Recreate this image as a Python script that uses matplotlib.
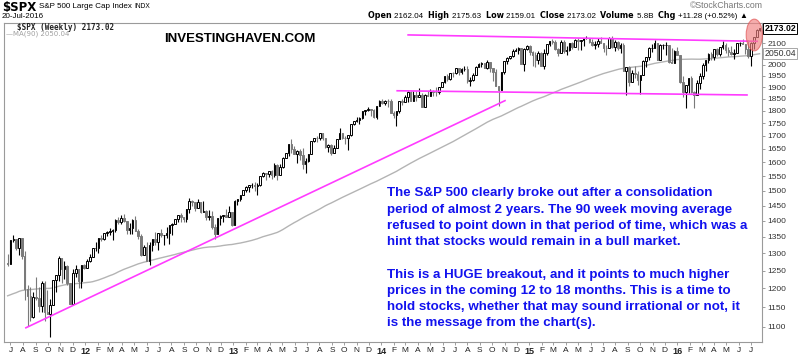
import numpy as np
import pandas as pd
import matplotlib
matplotlib.use('Agg')
import matplotlib.pyplot as plt
import matplotlib.dates as mdates
from matplotlib.patches import Ellipse

##############################################################################
# DATA (weekly $SPX)

# weekly closes before the visible window, only needed for the 90 week MA
pre_close = [1025.21, 1071.49, 1087.68, 1079.60, 1036.19, 1069.30, 1093.48, 1091.38, 1091.49, 1105.98,
             1106.41, 1102.47, 1126.48, 1115.10,
             1144.98, 1136.03, 1091.76, 1073.87, 1066.19, 1075.51, 1109.17, 1104.49, 1138.70, 1149.99,
             1159.90, 1166.59, 1178.10, 1194.37, 1192.13, 1217.28, 1186.69, 1110.88, 1135.68, 1087.69,
             1089.41, 1064.88, 1091.60, 1117.51, 1076.76, 1022.58, 1077.96, 1064.88, 1102.66, 1101.60,
             1121.64, 1079.25, 1071.69, 1064.59, 1104.51, 1109.55, 1125.59, 1148.67, 1146.24, 1165.15,
             1176.19, 1183.08, 1183.26, 1225.85, 1199.21, 1199.73, 1189.40, 1224.71, 1240.40, 1243.91,
             1256.77, 1257.64,
             1271.50, 1293.24, 1283.35, 1276.34, 1310.87, 1329.15, 1343.01, 1319.88, 1321.15, 1304.28,
             1279.20, 1313.80, 1332.41, 1328.17, 1319.68, 1337.38, 1363.61, 1340.20, 1337.77, 1333.27,
             1331.10, 1300.16, 1270.98, 1271.50]

first_week = '2011-06-24'

close_2011 = [1268.45, 1339.67, 1343.80, 1316.14, 1345.02, 1292.28, 1199.38, 1178.81, 1123.53, 1176.80,
              1173.97, 1154.23, 1216.01, 1136.43, 1131.42, 1155.46, 1224.58, 1238.25, 1285.09, 1253.23,
              1263.85, 1215.65, 1158.67, 1244.28, 1255.19, 1219.66, 1265.33, 1257.60]
high_2011 = [1298.6, 1341.0, 1356.5, 1343.8, 1347.0, 1345.2, 1307.4, 1208.5, 1204.5, 1190.7,
             1230.7, 1204.4, 1220.4, 1220.4, 1195.9, 1171.4, 1224.6, 1238.3, 1292.7, 1285.1,
             1277.6, 1266.0, 1215.7, 1255.5, 1267.1, 1255.2, 1265.4, 1269.4]
low_2011 = [1262.7, 1268.4, 1333.2, 1309.0, 1295.9, 1282.9, 1168.1, 1101.5, 1114.2, 1121.1,
            1170.0, 1136.1, 1136.2, 1114.2, 1131.0, 1074.8, 1155.0, 1190.7, 1221.0, 1215.4,
            1226.6, 1209.4, 1158.6, 1158.6, 1231.5, 1202.4, 1202.4, 1254.0]

close_2012 = [1277.81, 1289.09, 1315.38, 1316.33, 1344.90, 1342.64, 1361.23, 1365.74, 1369.63, 1370.87,
              1404.17, 1397.11, 1408.47, 1398.08, 1370.26, 1378.53, 1403.36, 1369.10, 1353.39, 1295.22,
              1317.82, 1278.04, 1325.66, 1342.84, 1335.02, 1362.16, 1354.68, 1356.78, 1362.66, 1385.97,
              1390.99, 1405.87, 1418.16, 1411.13, 1406.58, 1437.92, 1465.77, 1460.15, 1440.67, 1460.93,
              1428.59, 1433.19, 1411.94, 1414.20, 1379.85, 1359.88, 1409.15, 1416.18, 1418.07, 1413.58,
              1430.15, 1385.59]
high_2012 = [1284.6, 1296.8, 1315.5, 1333.5, 1345.3, 1354.3, 1363.4, 1368.9, 1378.0, 1374.4,
             1405.9, 1414.0, 1419.2, 1422.4, 1397.5, 1392.8, 1406.6, 1415.3, 1374.8, 1358.8,
             1324.1, 1334.9, 1334.9, 1343.3, 1363.5, 1362.2, 1374.8, 1356.8, 1380.4, 1386.0,
             1394.2, 1407.1, 1418.7, 1426.7, 1413.5, 1438.0, 1474.5, 1467.1, 1460.7, 1470.9,
             1460.9, 1464.0, 1433.7, 1434.3, 1433.4, 1388.8, 1409.2, 1419.7, 1420.5, 1438.6,
             1448.0, 1430.2]
low_2012 = [1258.9, 1274.6, 1290.3, 1306.1, 1300.5, 1337.5, 1340.0, 1352.3, 1354.9, 1340.0,
            1365.7, 1391.6, 1391.1, 1395.8, 1357.4, 1358.8, 1358.6, 1367.0, 1343.1, 1291.9,
            1295.8, 1277.0, 1266.7, 1306.6, 1324.4, 1309.3, 1350.0, 1325.4, 1345.1, 1329.2,
            1354.7, 1391.7, 1397.3, 1398.0, 1397.0, 1396.6, 1425.0, 1449.6, 1430.5, 1440.7,
            1425.5, 1428.6, 1403.3, 1403.3, 1373.0, 1343.4, 1359.9, 1385.4, 1398.0, 1411.9,
            1413.5, 1385.1]

close_2013 = [1466.47, 1472.05, 1485.98, 1502.96, 1513.17, 1517.93, 1519.79, 1515.60, 1518.20, 1551.18,
              1560.70, 1556.89, 1569.19, 1553.28, 1588.85, 1555.25, 1582.24, 1614.42, 1633.70, 1667.47,
              1649.60, 1630.74, 1643.38, 1626.73, 1592.43, 1606.28, 1631.89, 1680.19, 1692.09, 1691.65,
              1709.67, 1691.42, 1655.83, 1663.50, 1632.97, 1655.17, 1687.99, 1709.91, 1691.75, 1690.50,
              1703.20, 1744.50, 1759.77, 1761.64, 1770.61, 1798.18, 1804.76, 1805.81, 1805.09, 1775.32,
              1818.32, 1841.40]
high_2013 = [1467.9, 1472.3, 1486.0, 1503.3, 1514.4, 1518.3, 1524.7, 1530.9, 1525.3, 1552.5,
             1563.6, 1557.7, 1570.3, 1573.7, 1597.4, 1593.0, 1592.6, 1618.5, 1635.0, 1667.5,
             1687.2, 1661.6, 1646.5, 1648.7, 1654.2, 1615.9, 1632.1, 1680.2, 1693.1, 1698.8,
             1709.7, 1709.2, 1693.0, 1669.2, 1669.5, 1664.0, 1689.0, 1729.9, 1711.0, 1700.7,
             1703.4, 1745.3, 1759.8, 1775.2, 1774.5, 1798.2, 1804.8, 1813.5, 1806.5, 1808.0,
             1818.3, 1844.9]
low_2013 = [1398.1, 1451.6, 1465.0, 1485.0, 1495.3, 1495.0, 1510.7, 1497.3, 1485.0, 1514.5,
            1547.4, 1538.6, 1546.2, 1539.5, 1548.6, 1536.0, 1555.3, 1581.3, 1614.4, 1623.6,
            1635.5, 1630.7, 1598.2, 1608.1, 1577.7, 1560.3, 1601.2, 1631.9, 1676.0, 1676.0,
            1684.4, 1684.9, 1654.0, 1639.4, 1627.5, 1633.4, 1655.2, 1688.0, 1687.1, 1670.0,
            1646.5, 1700.0, 1740.5, 1752.7, 1746.2, 1767.0, 1780.9, 1799.6, 1779.1, 1772.3,
            1768.0, 1819.0]

close_2014 = [1831.37, 1842.37, 1838.70, 1790.29, 1782.59, 1797.02, 1838.63, 1836.25, 1859.45, 1878.04,
              1841.13, 1866.52, 1857.62, 1865.09, 1815.69, 1864.85, 1863.40, 1881.14, 1878.48, 1877.86,
              1900.53, 1923.57, 1949.44, 1936.16, 1962.87, 1960.96, 1985.44, 1967.57, 1978.22, 1978.34,
              1925.15, 1931.59, 1955.06, 1988.40, 2003.37, 2007.71, 1985.54, 2010.40, 1982.85, 1967.90,
              1906.13, 1886.76, 1964.58, 2018.05, 2031.92, 2039.82, 2063.50, 2067.56, 2075.37, 2002.33,
              2070.65, 2088.77]
high_2014 = [1849.4, 1843.2, 1850.8, 1849.3, 1798.8, 1798.0, 1841.7, 1847.5, 1867.9, 1883.6,
             1882.3, 1883.9, 1884.0, 1897.3, 1872.5, 1869.6, 1884.9, 1891.3, 1889.1, 1902.2,
             1901.3, 1924.0, 1949.4, 1955.6, 1963.9, 1968.2, 1985.6, 1985.6, 1983.9, 1991.4,
             1991.4, 1942.9, 1964.0, 1992.8, 2005.0, 2011.2, 2007.7, 2019.3, 2009.1, 1985.2,
             1977.8, 1906.1, 1965.3, 2018.2, 2034.3, 2041.3, 2071.5, 2075.8, 2079.5, 2075.8,
             2077.9, 2093.6]
low_2014 = [1827.7, 1823.7, 1815.8, 1790.3, 1772.3, 1737.9, 1791.8, 1824.6, 1834.4, 1834.4,
            1839.6, 1846.3, 1839.6, 1858.8, 1814.4, 1815.8, 1859.7, 1859.8, 1859.8, 1862.4,
            1868.4, 1900.5, 1915.9, 1925.8, 1930.0, 1944.7, 1956.7, 1952.9, 1955.6, 1968.7,
            1916.4, 1904.8, 1928.0, 1955.0, 1988.4, 1990.1, 1985.2, 1978.6, 1965.0, 1926.0,
            1905.0, 1820.7, 1886.8, 1957.4, 2001.0, 2025.0, 2034.5, 2064.0, 2049.6, 2002.3,
            1972.6, 2069.0]

close_2015 = [2058.20, 2044.81, 2019.42, 2051.82, 1994.99, 2055.47, 2096.99, 2110.30, 2104.50, 2071.26,
              2053.40, 2108.10, 2061.02, 2066.96, 2102.06, 2081.18, 2117.69, 2108.29, 2116.10, 2122.73,
              2126.06, 2107.39, 2092.83, 2094.11, 2109.99, 2101.49, 2076.78, 2076.62, 2126.64, 2079.65,
              2103.84, 2077.57, 2091.54, 1970.89, 1988.87, 1921.22, 1961.05, 1958.03, 1931.34, 1951.36,
              2014.89, 2033.11, 2075.15, 2079.36, 2099.20, 2023.04, 2089.17, 2090.11, 2091.69, 2012.37,
              2005.55, 2060.99, 2043.94]
high_2015 = [2093.0, 2064.4, 2056.9, 2064.6, 2057.1, 2072.4, 2097.0, 2110.6, 2119.6, 2117.5,
             2079.0, 2114.9, 2114.9, 2088.3, 2102.6, 2107.6, 2120.9, 2125.9, 2117.7, 2126.1,
             2134.7, 2126.2, 2121.9, 2109.6, 2126.6, 2130.0, 2101.5, 2089.8, 2128.0, 2132.8,
             2114.2, 2112.7, 2102.7, 2101.9, 1989.0, 1993.5, 1975.0, 1995.3, 1970.5, 1951.4,
             2020.9, 2033.5, 2079.7, 2094.3, 2116.5, 2099.2, 2097.1, 2095.6, 2104.3, 2090.4,
             2076.7, 2067.4, 2081.6]
low_2015 = [2046.0, 1992.4, 1988.1, 2004.5, 1994.0, 1980.9, 2041.9, 2085.4, 2096.0, 2067.3,
            2039.7, 2061.1, 2055.1, 2045.5, 2062.3, 2072.4, 2079.9, 2067.9, 2067.9, 2085.7,
            2120.0, 2099.2, 2085.7, 2072.1, 2084.0, 2101.4, 2056.3, 2044.0, 2076.6, 2076.5,
            2063.5, 2067.9, 2052.1, 1970.9, 1867.0, 1903.1, 1937.9, 1938.0, 1908.8, 1871.9,
            1951.4, 1990.7, 2022.3, 2058.8, 2076.0, 2022.0, 2019.4, 2070.3, 2042.4, 2006.0,
            2005.5, 2005.9, 2043.6]

close_2016 = [1922.03, 1880.33, 1906.90, 1940.24, 1880.05, 1864.78, 1917.78, 1948.05, 1999.99, 2022.19,
              2049.58, 2035.94, 2072.78, 2047.60, 2080.73, 2091.58, 2065.30, 2057.14, 2046.61, 2052.32,
              2099.06, 2099.13, 2096.07, 2071.22, 2037.41, 2102.95, 2129.90, 2161.74, 2173.02]
high_2016 = [2038.2, 1950.3, 1908.8, 1940.2, 1947.2, 1881.6, 1930.7, 1962.9, 2009.1, 2022.4,
             2052.4, 2056.6, 2074.0, 2075.1, 2083.0, 2111.1, 2099.9, 2083.4, 2084.9, 2071.9,
             2100.1, 2105.3, 2120.6, 2096.1, 2113.3, 2104.3, 2131.7, 2169.1, 2175.6]
low_2016 = [1918.5, 1857.8, 1812.3, 1872.7, 1872.7, 1810.1, 1865.0, 1891.0, 1937.1, 1969.3,
            2005.4, 2022.5, 2022.6, 2039.5, 2038.0, 2073.6, 2052.2, 2039.7, 2043.1, 2025.9,
            2052.4, 2085.4, 2094.0, 2050.4, 2032.1, 1991.7, 2074.0, 2131.7, 2159.0]

# hand drawn trend lines (date, price) and the red highlight
uptrend = [('2011-08-08', 1097), ('2014-11-02', 1842)]
support = [('2014-02-09', 1884), ('2016-06-21', 1866)]
resistance = [('2014-03-08', 2140), ('2016-07-16', 2109)]
highlight_center = ('2016-07-09', 2141)

y_ticks = [1100, 1150, 1200, 1250, 1300, 1350, 1400, 1450, 1500, 1550, 1600, 1650,
           1700, 1750, 1800, 1850, 1900, 1950, 2000, 2050, 2100, 2150]

last_close = '2173.02'
last_ma = '2050.04'
quote_row = [('Open ', True), ('2162.04  ', False), ('High ', True), ('2175.63  ', False),
             ('Low ', True), ('2159.01  ', False), ('Close ', True), ('2173.02  ', False),
             ('Volume ', True), ('5.8B  ', False), ('Chg ', True), ('+11.28 (+0.52%) ', False),
             ('\u25b2', False)]

note_lines = ['The S&P 500 clearly broke out after a consolidation',
              'period of almost 2 years. The 90 week moving average',
              'refused to point down in that period of time, which was a',
              'hint that stocks would remain in a bull market.',
              '',
              'This is a HUGE breakout, and it points to much higher',
              'prices in the coming 12 to 18 months. This is a time to',
              'hold stocks, whether that may sound irrational or not, it',
              'is the message from the chart(s).']

##############################################################################
# PREPARE

close = np.array(close_2011 + close_2012 + close_2013 + close_2014 + close_2015 + close_2016)
high = np.array(high_2011 + high_2012 + high_2013 + high_2014 + high_2015 + high_2016)
low = np.array(low_2011 + low_2012 + low_2013 + low_2014 + low_2015 + low_2016)
open_ = np.concatenate([[pre_close[-1]], close[:-1]])
weeks = pd.date_range(first_week, periods=len(close), freq='W-FRI')
xw = mdates.date2num(weeks)

all_close = pd.Series(list(pre_close) + list(close))
ma90 = all_close.rolling(90).mean().values[len(pre_close):]

up = close >= open_
edge = np.where(up, 'black', '#7a7a7a')
face = np.where(up, 'white', '#7a7a7a')
wick_hi = np.maximum(high, np.maximum(open_, close))
wick_lo = np.minimum(low, np.minimum(open_, close))

##############################################################################
# PLOT
W, H = 800, 355
fig = plt.figure(figsize=(W / 100, H / 100), dpi=100)
ax = fig.add_axes([4 / W, 1 - 342 / H, 758 / W, 319 / H])
ax.set_yscale('log')
ax.set_ylim(1062, 2199)
ax.set_xlim(mdates.date2num(pd.Timestamp('2011-06-15')), mdates.date2num(pd.Timestamp('2016-07-28')))

ax.plot(xw, ma90, color='#b4b4b4', lw=1.0, zorder=1)
ax.vlines(xw, wick_lo, wick_hi, colors=edge, lw=0.8, zorder=2)
ax.bar(xw, np.abs(close - open_), bottom=np.minimum(open_, close), width=4.0,
       color=face, edgecolor=edge, linewidth=0.7, zorder=3)

pink = '#ff3cff'
for line in [uptrend, support, resistance]:
    ax.plot([mdates.date2num(pd.Timestamp(d)) for d, v in line], [v for d, v in line],
            color=pink, lw=1.2, zorder=4)

ell = Ellipse((mdates.date2num(pd.Timestamp(highlight_center[0])), highlight_center[1]),
              width=40, height=155, facecolor='#f08080', edgecolor='#e05050',
              alpha=0.65, lw=0.8, zorder=5, clip_on=False)
ax.add_patch(ell)

# axes look
for s in ax.spines.values():
    s.set_color('#9a9a9a')
    s.set_linewidth(0.8)
ax.yaxis.tick_right()
ax.yaxis.set_minor_locator(matplotlib.ticker.NullLocator())
ax.set_yticks(y_ticks)
# the 2050 label sits under the MA value box
ax.set_yticklabels(['' if t == 2050 else str(t) for t in y_ticks])
ax.tick_params(axis='y', which='major', labelsize=6, length=2.5, width=0.5,
               color='#777777', pad=1.5, labelcolor='#333333')

month_starts = pd.date_range('2011-07-01', '2016-07-01', freq='MS')
ax.set_xticks(mdates.date2num(month_starts))
ax.set_xticklabels([d.strftime('%y') if d.month == 1 else d.strftime('%b')[0] for d in month_starts])
ax.tick_params(axis='x', which='major', labelsize=6, length=2, width=0.5,
               color='#777777', pad=1.5, labelcolor='#222222')
for lab, d in zip(ax.get_xticklabels(), month_starts):
    lab.set_family('Liberation Sans')
    if d.month == 1:
        lab.set_fontweight('bold')
        lab.set_fontsize(6.5)
for lab in ax.get_yticklabels():
    lab.set_family('Liberation Sans')

# boxed last values on the price scale
ax.text(1.003, 2173.02, last_close, transform=ax.get_yaxis_transform(), fontsize=6.3,
        fontweight='bold', va='center', ha='left', color='black', zorder=10, clip_on=False,
        family='Liberation Sans',
        bbox=dict(boxstyle='square,pad=0.12', facecolor='white', edgecolor='black', lw=0.7))
ax.text(1.003, 2050.04, last_ma, transform=ax.get_yaxis_transform(), fontsize=6.3,
        va='center', ha='left', color='#333333', zorder=10, clip_on=False,
        family='Liberation Sans',
        bbox=dict(boxstyle='square,pad=0.12', facecolor='white', edgecolor='#999999', lw=0.6))

# header
renderer = fig.canvas.get_renderer()
fig.text(2 / W, 1 - 7 / H, r'\$SPX', fontsize=8.5, fontweight='bold', va='center')
t = fig.text(39 / W, 1 - 7 / H, 'S&P 500 Large Cap Index ', fontsize=5.8, va='center',
             family='Liberation Sans')
x_indx = 39 + t.get_window_extent(renderer).width
fig.text(x_indx / W, 1 - 7 / H, 'INDX', fontsize=4.8, va='center', family='Liberation Sans')
fig.text(2 / W, 1 - 16 / H, '20-Jul-2016', fontsize=5.8, va='center', family='Liberation Sans')
fig.text(763 / W, 1 - 6 / H, '\u00a9StockCharts.com', fontsize=6.3, va='center', ha='right',
         color='#777777', family='Liberation Sans')

xpos = 368
for txt, bold in quote_row:
    t = fig.text(xpos / W, 1 - 16 / H, txt, fontsize=5.8, va='center',
                 fontweight='bold' if bold else 'normal',
                 family='DejaVu Sans' if bold else 'Liberation Sans')
    xpos += t.get_window_extent(renderer).width

# legend in the plot
fig.text(17 / W, 1 - 27 / H, r'\$SPX (Weekly) ' + last_close, fontsize=5.5, va='center',
         family='DejaVu Sans Mono', fontweight='bold', color='#222222')
fig.text(6 / W, 1 - 33.5 / H, '\u2014MA(90) ' + last_ma, fontsize=5, va='center',
         family='DejaVu Sans', color='#a0a0a0')

fig.text(164 / W, 1 - 38.5 / H, 'INVESTINGHAVEN.COM', fontsize=9.5, fontweight='bold',
         va='center', family='Liberation Sans', color='black')

for i, line in enumerate(note_lines):
    fig.text(387 / W, 1 - (193.3 + i * 16.25) / H, line, fontsize=9.6, fontweight='bold',
             va='center', family='Liberation Sans', color='#1212ee')

plt.savefig('out.png', dpi=100)
plt.close()
